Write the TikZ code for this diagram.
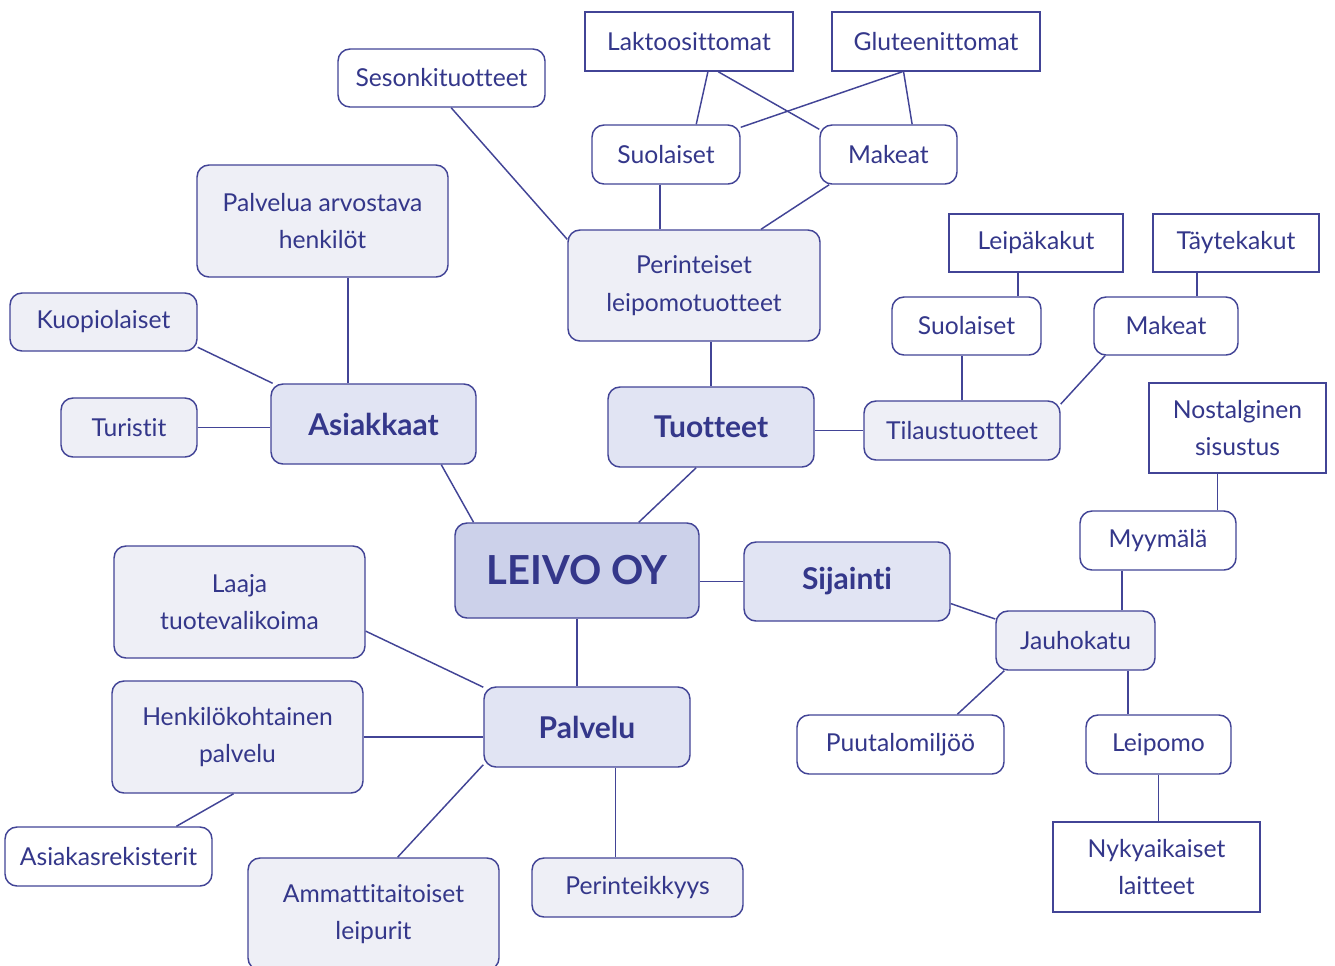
\documentclass[tikz,border=0pt]{standalone}
\usepackage{fontspec}
\setmainfont[Ligatures=NoCommon]{Lato}
\definecolor{inkblue}{RGB}{52,55,138}
\definecolor{lineblue}{RGB}{66,68,150}
\definecolor{hubfill}{RGB}{204,209,234}
\definecolor{mainfill}{RGB}{225,228,243}
\definecolor{subfill}{RGB}{238,239,246}

\tikzset{every picture/.style={line width=1.1pt}}
\tikzset{
  wh/.style 2 args={minimum width=#1*0.75pt, minimum height=#2*0.75pt},
  mapbox/.style={draw=lineblue, text=inkblue, inner sep=0.75pt, align=center, font=\fontsize{18.5}{23}\selectfont},
  hubbox/.style={mapbox, rounded corners=9pt, fill=hubfill, font=\fontsize{30}{34}\selectfont\bfseries},
  mainbox/.style={mapbox, rounded corners=9pt, fill=mainfill, font=\fontsize{22.5}{26}\selectfont\bfseries},
  subbox/.style={mapbox, rounded corners=9pt, fill=subfill},
  leafbox/.style={mapbox, rounded corners=9pt, fill=white},
  tagbox/.style={mapbox, fill=white},
  link/.style={draw=lineblue}
}

\begin{document}
\begin{tikzpicture}[x=0.75pt,y=0.75pt,yscale=-1,xscale=1]
\useasboundingbox (0,0) rectangle (1335,965);

% Centre and main branches
\node [hubbox, wh={244}{95}] (leivo) at (577,570.5) {LEIVO OY};
\node [mainbox, wh={205}{80}] (asiakkaat) at (373.5,424) {Asiakkaat};
\node [mainbox, wh={206}{80}] (tuotteet) at (711,427) {Tuotteet};
\node [mainbox, wh={206}{79}] (sijainti) at (847,581.5) {Sijainti};
\node [mainbox, wh={206}{80}] (palvelu) at (587,727) {Palvelu};

% Asiakkaat
\node [subbox, wh={251}{112}] (arvostava) at (322.5,221) {Palvelua arvostava\\[5pt]henkilöt};
\node [subbox, wh={187}{58}] (kuopio) at (103.5,322) {Kuopiolaiset};
\node [subbox, wh={136}{59}] (turistit) at (129,427.5) {Turistit};

% Tuotteet
\node [subbox, wh={252}{111}] (perinteiset) at (694,285.5) {Perinteiset\\[5pt]leipomotuotteet};
\node [leafbox, wh={207}{58}] (sesonki) at (441.5,78) {Sesonkituotteet};
\node [leafbox, wh={148}{59}] (suolaisetA) at (666,154.5) {Suolaiset};
\node [leafbox, wh={137}{59}] (makeatA) at (888.5,154.5) {Makeat};
\node [tagbox, wh={208}{59}] (laktoos) at (689,41.5) {Laktoosittomat};
\node [tagbox, wh={208}{59}] (gluteen) at (936,41.5) {Gluteenittomat};
\node [subbox, wh={196}{59}] (tilaus) at (962,430.5) {Tilaustuotteet};
\node [leafbox, wh={149}{58}] (suolaisetB) at (966.5,326) {Suolaiset};
\node [leafbox, wh={144}{58}] (makeatB) at (1166,326) {Makeat};
\node [tagbox, wh={174}{58}] (leipakakut) at (1036,243) {Leipäkakut};
\node [tagbox, wh={166}{58}] (taytekakut) at (1236,243) {Täytekakut};

% Sijainti
\node [subbox, wh={159}{59}] (jauhokatu) at (1075.5,640.5) {Jauhokatu};
\node [leafbox, wh={156}{59}] (myymala) at (1158,540.5) {Myymälä};
\node [tagbox, wh={177}{90}] (nostalg) at (1237.5,428) {Nostalginen\\[5pt]sisustus};
\node [leafbox, wh={207}{59}] (puutalo) at (900.5,744.5) {Puutalomiljöö};
\node [leafbox, wh={145}{59}] (leipomo) at (1158.5,744.5) {Leipomo};
\node [tagbox, wh={207}{90}] (nykyaik) at (1156.5,867) {Nykyaikaiset\\[5pt]laitteet};

% Palvelu
\node [subbox, wh={251}{112}] (laaja) at (239.5,602) {Laaja\\[5pt]tuotevalikoima};
\node [subbox, wh={251}{112}] (henkilo) at (237.5,737) {Henkilökohtainen\\[5pt]palvelu};
\node [leafbox, wh={207}{59}] (rekisteri) at (108.5,856.5) {Asiakasrekisterit};
\node [subbox, wh={251}{112}] (ammatti) at (373.5,914) {Ammattitaitoiset\\[5pt]leipurit};
\node [subbox, wh={211}{59}] (perinteik) at (637.5,887.5) {Perinteikkyys};

% Connectors
\draw [link] (leivo.155) -- (asiakkaat.-31);
\draw [link] (leivo.38.4) -- (tuotteet.250.7);
\draw [link] (sijainti.west) -- (sijainti.west -| leivo.east);
\draw [link] (leivo.south) -- (leivo.south |- palvelu.north);

\draw [link] (asiakkaat.122.5) -- (asiakkaat.122.5 |- arvostava.south);
\draw [link] (kuopio.-15.3) -- (asiakkaat.158.1);
\draw [link] (turistit.east) -- (turistit.east -| asiakkaat.west);

\draw [link] (tuotteet.north) -- (tuotteet.north |- perinteiset.south);
\draw [link] (tilaus.west) -- (tilaus.west -| tuotteet.east);
\draw [link] (sesonki.-72.4) -- (perinteiset.160.7);
\draw [link] (suolaisetA.-101.5) -- (suolaisetA.-101.5 |- perinteiset.north);
\draw [link] (perinteiset.40.1) -- (makeatA.-153.2);
\draw [link] (suolaisetA.45.5) -- (laktoos.-58.6);
\draw [link] (suolaisetA.20.2) -- (gluteen.-138.1);
\draw [link] (makeatA.160.3) -- (laktoos.-46.4);
\draw [link] (makeatA.52.7) -- (gluteen.-137.3);

\draw [link] (tilaus.north) -- (tilaus.north |- suolaisetB.south);
\draw [link] (tilaus.15.3) -- (makeatB.-154.2);
\draw [link] (suolaisetB.30.9) -- (suolaisetB.30.9 |- leipakakut.south);
\draw [link] (makeatB.44) -- (makeatB.44 |- taytekakut.south);

\draw [link] (sijainti.-12.85) -- (jauhokatu.165.4);
\draw [link] (jauhokatu.33.5) -- (jauhokatu.33.5 |- myymala.south);
\draw [link] (myymala.27.4) -- (myymala.27.4 |- nostalg.south);
\draw [link] (jauhokatu.-157.6) -- (puutalo.28.4);
\draw [link] (jauhokatu.-30.8) -- (jauhokatu.-30.8 |- leipomo.north);
\draw [link] (leipomo.south) -- (leipomo.south |- nykyaik.north);

\draw [link] (laaja.-13.9) -- (palvelu.159.5);
\draw [link] (henkilo.east) -- (henkilo.east -| palvelu.west);
\draw [link] (henkilo.-94.6) -- (rekisteri.24.9);
\draw [link] (palvelu.-160.5) -- (ammatti.67.2);
\draw [link] (palvelu.-55) -- (palvelu.-55 |- perinteik.north);

\end{tikzpicture}
\end{document}
